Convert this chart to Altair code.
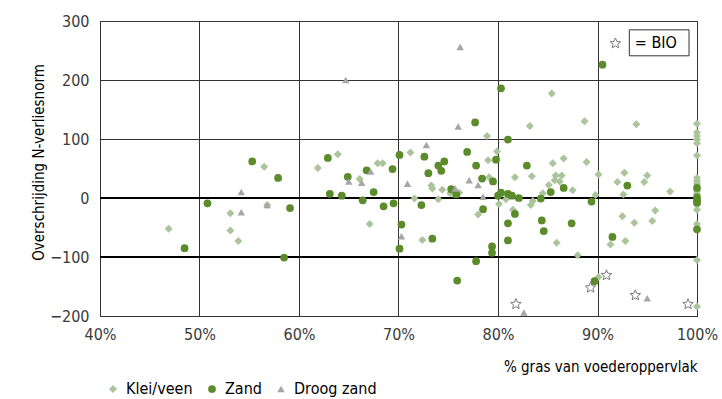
import altair as alt
import pandas as pd

# ---------------- data ----------------
series_names = ["Klei/veen", "Zand", "Droog zand"]

klei_x = [46.9, 53.1, 53.1, 53.9, 56.5, 56.8, 61.9, 63.9, 66.1, 67.1, 67.9, 68.4,
          71.2, 78.9, 79.9, 79.0, 79.1, 73.3, 73.4, 74.4, 76.1, 75.2, 80.1, 80.8,
          71.6, 74.0, 78.0, 72.4, 85.4, 83.2, 88.7, 93.9, 85.5, 86.6, 88.9, 81.7,
          83.4, 85.8, 86.4, 85.7, 86.2, 87.5, 85.1, 84.5, 83.5, 83.3, 81.5, 89.8,
          90.1, 85.9, 88.0, 90.1, 100.0, 92.0, 92.7, 92.6, 94.7, 95.0, 97.3, 92.5,
          93.7, 95.5, 95.8, 91.3, 92.8,
          100.0, 100.0, 100.0, 100.0, 100.0, 100.0, 100.0, 100.0, 100.0, 100.0,
          100.0, 100.0, 100.0, 100.0, 100.0]
klei_y = [-52, -26, -55, -73, 53, -12, 51, 74, 32, -44, 59, 59,
          77, 105, 79, 64, 35, 21, 16, 14, 9, 8, -10, -2,
          -1, -2, -28, -71, 177, 122, 130, 125, 59, 67, 61, 35,
          37, 38, 38, 30, 28, 13, 22, 8, -5, -12, -20, 5,
          40, -76, -97, -134, -184, 27, 43, 6, 27, 38, 11, -31,
          -42, -39, -21, -79, -73,
          126, 111, 105, 99, 93, 72, 34, 29, 24, 12,
          7, -11, -20, -44, -105]

zand_x = [48.5, 50.8, 55.3, 57.9, 59.1, 58.5, 62.9, 63.1, 64.3, 64.9, 66.4, 66.8,
          67.5, 68.5, 69.4, 69.5, 70.1, 70.3, 70.1, 77.7, 81.0, 72.6, 76.9, 74.6,
          74.0, 74.3, 77.8, 79.8, 73.0, 78.4, 79.5, 75.3, 75.8, 80.0, 80.3, 81.0,
          81.4, 82.1, 72.3, 78.5, 73.4, 79.4, 79.4, 77.8, 75.9, 81.0, 81.0, 90.5,
          80.3, 82.9, 86.6, 85.3, 84.3, 89.4, 81.7, 84.4, 84.6, 87.4, 89.7, 91.5,
          93.0, 100.0, 100.0, 100.0, 100.0, 100.0]
zand_y = [-85, -9, 62, 34, -17, -101, 68, 7, 4, 36, -4, 47,
          10, -14, 49, -9, 73, -45, -86, 128, 99, 70, 78, 62,
          55, 46, 55, 65, 42, 33, 28, 15, 6, 4, 9, 7,
          4, 0, -12, -19, -69, -82, -93, -107, -140, -43, -72, 226,
          186, 55, 17, 10, -1, -6, -27, -38, -56, -43, -141, -66,
          21, 17, 1, -4, -8, -53]

droog_x = [64.7, 54.2, 54.2, 56.8, 65.0, 66.3, 67.2, 70.9, 70.3, 76.2, 76.0, 72.8,
           75.7, 77.1, 78.0, 78.5, 95.0, 82.6]
droog_y = [200, 10, -24, -12, 28, 26, 45, 24, -65, 256, 121, 90,
           16, 30, 22, 2, -170, -194]

bio_x = [90.9, 89.3, 93.8, 99.1, 81.8]
bio_y = [-131, -152, -165, -180, -180]

x_ticks = [0.4, 0.5, 0.6, 0.7, 0.8, 0.9, 1.0]
y_ticks = [-200, -100, 0, 100, 200, 300]
emph_y = [0, -100]

bio_key_x = [91.8]
bio_key_y = [262]
bio_box_x = [93.2]
bio_box_x2 = [99.2]
bio_box_y = [241]
bio_box_y2 = [285]
bio_label = ["= BIO"]
bio_label_x = [93.75]

# ---------------- build tables ----------------
rows = []
for name, xs, ys in [("Klei/veen", klei_x, klei_y),
                     ("Zand", zand_x, zand_y),
                     ("Droog zand", droog_x, droog_y)]:
    rows += [{"pct": x / 100, "exc": y, "type": name} for x, y in zip(xs, ys)]
df = pd.DataFrame(rows)
df_bio = pd.DataFrame({"pct": [x / 100 for x in bio_x], "exc": bio_y})
df_emph = pd.DataFrame({"y": emph_y})
df_key = pd.DataFrame({"pct": [x / 100 for x in bio_key_x], "exc": bio_key_y})
df_box = pd.DataFrame({"x": [v / 100 for v in bio_box_x], "x2": [v / 100 for v in bio_box_x2],
                       "y": bio_box_y, "y2": bio_box_y2})
df_lab = pd.DataFrame({"pct": [v / 100 for v in bio_label_x], "exc": bio_key_y, "t": bio_label})

FONT = "Liberation Sans Narrow, DejaVu Sans Condensed, Arial Narrow, sans-serif"
STAR = ("M0,-1L0.265,-0.364L0.951,-0.309L0.428,0.139L0.588,0.809L0,0.45"
        "L-0.588,0.809L-0.428,0.139L-0.951,-0.309L-0.265,-0.364Z")

x_scale = alt.Scale(domain=[0.4, 1.0], nice=False, zero=False)
y_scale = alt.Scale(domain=[-200, 300], nice=False, zero=False)

x_axis = alt.Axis(values=x_ticks, format=".0%", title="% gras van voederoppervlak",
                  titleX=597, titleY=50, titleAlign="right", titleBaseline="middle",
                  labelPadding=10, labelFlush=False)
y_axis = alt.Axis(values=y_ticks, title="Overschrijding N-verliesnorm",
                  titleAngle=270, titleX=-62, titleY=141, titleAlign="center",
                  titleBaseline="middle", labelPadding=11, labelFlush=False)

legend = alt.Legend(title=None, orient="none", legendX=5, legendY=360,
                    direction="horizontal", symbolSize=42, symbolStrokeWidth=0,
                    labelFont=FONT, labelFontSize=16, labelColor="#000000",
                    labelOffset=5, columnPadding=11, padding=0)

rules = alt.Chart(df_emph).mark_rule(color="#000000", strokeWidth=2).encode(
    y=alt.Y("y:Q", scale=y_scale, axis=y_axis)
)

points = alt.Chart(df).mark_point(filled=True, opacity=1, strokeWidth=0).encode(
    x=alt.X("pct:Q", scale=x_scale, axis=x_axis),
    y=alt.Y("exc:Q", scale=y_scale, axis=y_axis),
    color=alt.Color("type:N", scale=alt.Scale(domain=series_names,
                                              range=["#abc59a", "#5b8b2a", "#a6a6a6"]),
                    legend=legend, sort=series_names),
    shape=alt.Shape("type:N", scale=alt.Scale(domain=series_names,
                                              range=["diamond", "circle", "triangle-up"]),
                    legend=legend, sort=series_names),
    size=alt.Size("type:N", scale=alt.Scale(domain=series_names, range=[64, 56, 86]),
                  legend=None),
)

stars = alt.Chart(df_bio).mark_point(shape=STAR, size=121, fill="white", fillOpacity=1,
                                     stroke="#7a7a7a", strokeWidth=1, opacity=1).encode(
    x=alt.X("pct:Q", scale=x_scale), y=alt.Y("exc:Q", scale=y_scale)
)

key_star = alt.Chart(df_key).mark_point(shape=STAR, size=121, fill="white", fillOpacity=1,
                                        stroke="#7a7a7a", strokeWidth=1, opacity=1).encode(
    x=alt.X("pct:Q", scale=x_scale), y=alt.Y("exc:Q", scale=y_scale)
)

box = alt.Chart(df_box).mark_rect(fill="white", stroke="#333333", strokeWidth=1).encode(
    x=alt.X("x:Q", scale=x_scale), x2="x2:Q",
    y=alt.Y("y:Q", scale=y_scale), y2="y2:Q"
)

label = alt.Chart(df_lab).mark_text(align="left", baseline="middle", font=FONT,
                                    fontSize=16, color="#000000").encode(
    x=alt.X("pct:Q", scale=x_scale), y=alt.Y("exc:Q", scale=y_scale), text="t:N"
)

chart = alt.layer(rules, points, stars, box, key_star, label).properties(
    width=597, height=295,
    autosize=alt.AutoSizeParams(type="none"),
    padding={"left": 100, "top": 21, "right": 25, "bottom": 83},
    background="white",
).configure_view(
    stroke="#333333", strokeWidth=1
).configure_axis(
    grid=True, gridColor="#333333", gridOpacity=1, gridWidth=1,
    domain=False, ticks=False,
    labelFont=FONT, labelFontSize=16, labelColor="#3a3a3a",
    titleFont=FONT, titleFontSize=15, titleColor="#000000", titleFontWeight="normal",
)

chart.save("out.html", embed_options={"renderer": "svg", "actions": False})
